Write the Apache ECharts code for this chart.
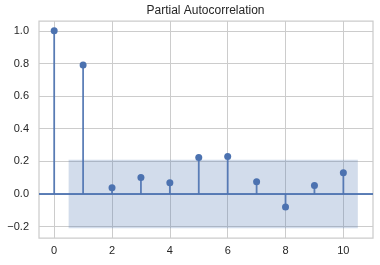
<!DOCTYPE html>
<html>
<head>
<meta charset="utf-8">
<script src="https://cdn.jsdelivr.net/npm/echarts@6/dist/echarts.min.js"></script>
<style>html,body{margin:0;padding:0;background:#fff}#c{width:380px;height:265px}</style>
</head>
<body>
<div id="c"></div>
<script>
var lags = [0, 1, 2, 3, 4, 5, 6, 7, 8, 9, 10];
var pacf = [1.0, 0.79, 0.037, 0.10, 0.068, 0.224, 0.23, 0.074, -0.08, 0.051, 0.129];
var confLow = -0.21;
var confHigh = 0.21;
var bandStart = 0.5;
var bandEnd = 10.5;
var xTicks = [0, 2, 4, 6, 8, 10];
var yTicks = [-0.2, 0.0, 0.2, 0.4, 0.6, 0.8, 1.0];

var C = '#4c72b0';
var TXT = '#262626';
var GRID = '#cccccc';
var FONT = '"Liberation Sans", Arial, sans-serif';

var chart = echarts.init(document.getElementById('c'), null, {renderer: 'canvas'});
var points = lags.map(function (l, i) { return [l, pacf[i]]; });

chart.setOption({
  animation: false,
  backgroundColor: '#fff',
  title: {
    text: 'Partial Autocorrelation',
    left: 205.5, textAlign: 'center', top: 5, padding: 0,
    textStyle: {fontFamily: FONT, fontSize: 12, fontWeight: 'normal', color: TXT}
  },
  grid: {left: 39, right: 7, top: 21, bottom: 27, show: true, borderColor: GRID, borderWidth: 1.25, backgroundColor: 'transparent'},
  xAxis: {
    type: 'value', min: -0.525, max: 11.025,
    axisLine: {show: false},
    axisTick: {show: false, customValues: xTicks},
    axisLabel: {customValues: xTicks, color: TXT, fontFamily: FONT, fontSize: 11, margin: 7},
    splitLine: {show: true, lineStyle: {color: GRID, width: 1}}
  },
  yAxis: {
    type: 'value', min: -0.2705, max: 1.0605,
    axisLine: {show: false},
    axisTick: {show: false, customValues: yTicks},
    axisLabel: {customValues: yTicks, color: TXT, fontFamily: FONT, fontSize: 11, margin: 10,
      formatter: function (v) { return v.toFixed(1).replace('-', '\u2212'); }},
    splitLine: {show: true, lineStyle: {color: GRID, width: 1}}
  },
  series: [
    {
      type: 'custom', z: 1,
      data: [[bandStart, bandEnd, confLow, confHigh]],
      renderItem: function (params, api) {
        var p1 = api.coord([api.value(0), api.value(3)]);
        var p2 = api.coord([api.value(1), api.value(2)]);
        return {type: 'rect', shape: {x: p1[0], y: p1[1], width: p2[0] - p1[0], height: p2[1] - p1[1]},
          style: {fill: 'rgba(76,114,176,0.25)'}};
      }
    },
    {
      type: 'custom', z: 3,
      data: points,
      renderItem: function (params, api) {
        var a = api.coord([api.value(0), 0]);
        var b = api.coord([api.value(0), api.value(1)]);
        return {type: 'line', shape: {x1: a[0], y1: a[1], x2: b[0], y2: b[1]},
          style: {stroke: C, lineWidth: 1.8, opacity: 0.9}};
      }
    },
    {
      type: 'scatter', z: 4, data: points, symbol: 'circle', symbolSize: 7,
      itemStyle: {color: C, opacity: 1},
      markLine: {
        silent: true, symbol: 'none', label: {show: false},
        lineStyle: {color: C, width: 1.8, type: 'solid', opacity: 0.9},
        data: [{yAxis: 0}]
      }
    }
  ]
});
</script>
</body>
</html>
